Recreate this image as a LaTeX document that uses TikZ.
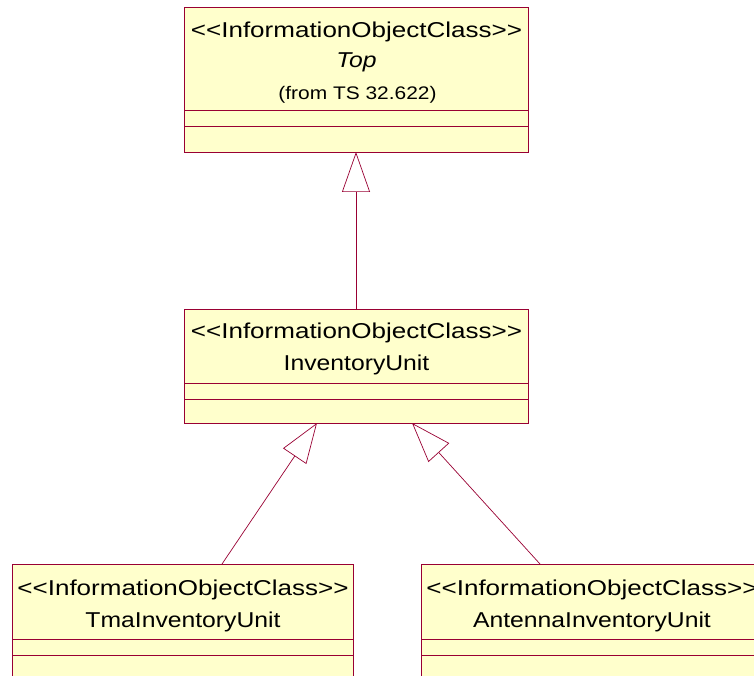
\documentclass[tikz,border=0pt]{standalone}
\usepackage{fontspec}
\setmainfont[FakeStretch=1.15]{Liberation Sans}
\newfontfamily\stereofont[FakeStretch=1.21]{Liberation Sans}
\usetikzlibrary{arrows.meta}
\definecolor{umlborder}{RGB}{153,0,51}
\definecolor{umlfill}{RGB}{255,255,204}
\begin{document}
\begin{tikzpicture}[x=1pt,y=-1pt,
  classbox/.style={draw=umlborder,fill=umlfill,line width=0.8pt,inner sep=0pt,outer sep=0pt,anchor=north west},
  sepline/.style={draw=umlborder,line width=0.8pt},
  stereo/.style={anchor=base,inner sep=0pt,font=\stereofont\fontsize{21.5}{24}\selectfont},
  cname/.style={anchor=base,inner sep=0pt,font=\fontsize{21.5}{24}\selectfont},
  fromtxt/.style={anchor=base,inner sep=0pt,font=\fontsize{18.2}{20}\selectfont},
  gen/.style={draw=umlborder,line width=0.7pt,-{Triangle[open,length=40pt,width=28pt]}}]
\clip (0,0) rectangle (754,676);
\fill[white] (0,0) rectangle (754,676);
% boxes
\node[classbox,minimum width=344pt,minimum height=145pt] (top) at (184,7) {};
\node[classbox,minimum width=344pt,minimum height=114pt] (inv) at (184,309) {};
\node[classbox,minimum width=341pt,minimum height=130pt] (tma) at (12,564) {};
\node[classbox,minimum width=342pt,minimum height=130pt] (ant) at (421,564) {};
% compartments
\draw[sepline] ([yshift=-103pt]top.north west) -- ([yshift=-103pt]top.north east);
\draw[sepline] ([yshift=-119pt]top.north west) -- ([yshift=-119pt]top.north east);
\draw[sepline] ([yshift=-74pt]inv.north west) -- ([yshift=-74pt]inv.north east);
\draw[sepline] ([yshift=-90pt]inv.north west) -- ([yshift=-90pt]inv.north east);
\draw[sepline] ([yshift=-75pt]tma.north west) -- ([yshift=-75pt]tma.north east);
\draw[sepline] ([yshift=-91pt]tma.north west) -- ([yshift=-91pt]tma.north east);
\draw[sepline] ([yshift=-75pt]ant.north west) -- ([yshift=-75pt]ant.north east);
\draw[sepline] ([yshift=-91pt]ant.north west) -- ([yshift=-91pt]ant.north east);
% texts
\node[stereo] (tops) at (356.5,38) {<{}<InformationObjectClass>{}>};
\node[cname,font=\fontsize{21.5}{24}\selectfont\itshape] (topn) at (356.5,68) {Top};
\node[fromtxt] (topf) at (357.5,99.5) {(from TS 32.622)};
\node[stereo] (invs) at (356.5,338) {<{}<InformationObjectClass>{}>};
\node[cname] (invn) at (356.5,370.5) {InventoryUnit};
\node[stereo] (tmas) at (183,595) {<{}<InformationObjectClass>{}>};
\node[cname] (tman) at (183,627) {TmaInventoryUnit};
\node[stereo] (ants) at (592,595) {<{}<InformationObjectClass>{}>};
\node[cname] (antn) at (592,627) {AntennaInventoryUnit};
% generalizations
\draw[gen] (inv.north) -- (top.south);
\draw[gen] ([xshift=210pt]tma.north west) -- ([xshift=133pt]inv.south west);
\draw[gen] ([xshift=119pt]ant.north west) -- ([xshift=228pt]inv.south west);
\end{tikzpicture}
\end{document}
